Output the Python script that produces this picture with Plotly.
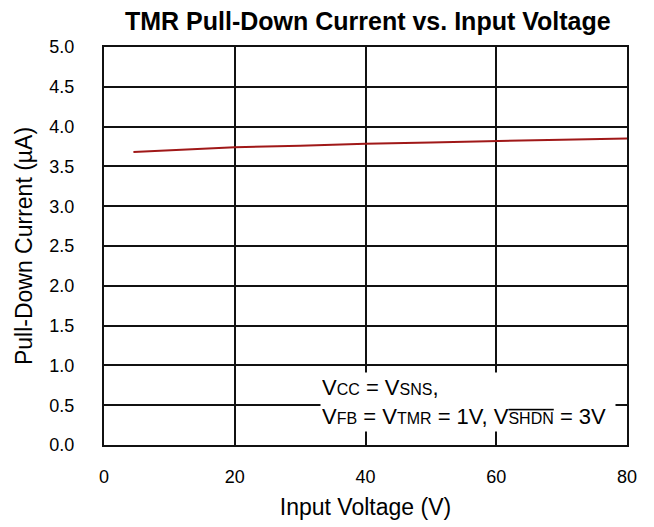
import plotly.graph_objects as go

input_voltage = [4.5, 10, 20, 30, 40, 50, 60, 70, 80]
pulldown_current = [3.68, 3.70, 3.74, 3.76, 3.785, 3.80, 3.82, 3.835, 3.85]

x_ticks = [0, 20, 40, 60, 80]
y_ticks = [0.0, 0.5, 1.0, 1.5, 2.0, 2.5, 3.0, 3.5, 4.0, 4.5, 5.0]

FONT = "Liberation Sans, Arial, sans-serif"

fig = go.Figure()
fig.add_trace(go.Scatter(
    x=input_voltage, y=pulldown_current, mode="lines",
    line=dict(color="#a01818", width=2), showlegend=False,
))

sub = "<span style='font-size:16px'>{}</span>"
note = ("V" + sub.format("CC") + " = V" + sub.format("SNS") + ",<br>"
        "V" + sub.format("FB") + " = V" + sub.format("TMR") + " = 1V, V"
        "<span style='font-size:16px;text-decoration:overline'>SHDN</span> = 3V")

fig.add_annotation(
    x=0.979, y=0.033, xref="paper", yref="paper", xanchor="right", yanchor="bottom",
    text=note, showarrow=False, align="left", bgcolor="white",
    width=292, height=56, borderpad=1,
    font=dict(family=FONT, size=22, color="black"),
)

fig.update_layout(
    width=646, height=519,
    margin=dict(l=96, r=27, t=39, b=82),
    paper_bgcolor="white", plot_bgcolor="white",
    font=dict(family=FONT, size=18, color="black"),
    title=dict(text="<b>TMR Pull-Down Current vs. Input Voltage</b>",
               x=0.557, xanchor="center", y=0.975, yanchor="middle",
               font=dict(family=FONT, size=25, color="black")),
    xaxis=dict(range=[0, 80], tickvals=x_ticks, ticktext=[str(v) for v in x_ticks],
               showgrid=True, gridcolor="#111", gridwidth=1.6,
               showline=True, linecolor="#111", linewidth=2, mirror=True,
               ticks="", ticklabelstandoff=14, zeroline=False,
               title=dict(text="Input Voltage (V)", font=dict(size=23), standoff=13),
               tickfont=dict(size=18)),
    yaxis=dict(range=[0, 5], tickvals=y_ticks, ticktext=[f"{v:.1f}" for v in y_ticks],
               showgrid=True, gridcolor="#111", gridwidth=1.6,
               showline=True, linecolor="#111", linewidth=2, mirror=True,
               ticks="", ticklabelstandoff=24, zeroline=False,
               title=dict(text="Pull-Down Current (µA)", font=dict(size=23), standoff=10),
               tickfont=dict(size=18)),
)

fig.write_html("out.html")
